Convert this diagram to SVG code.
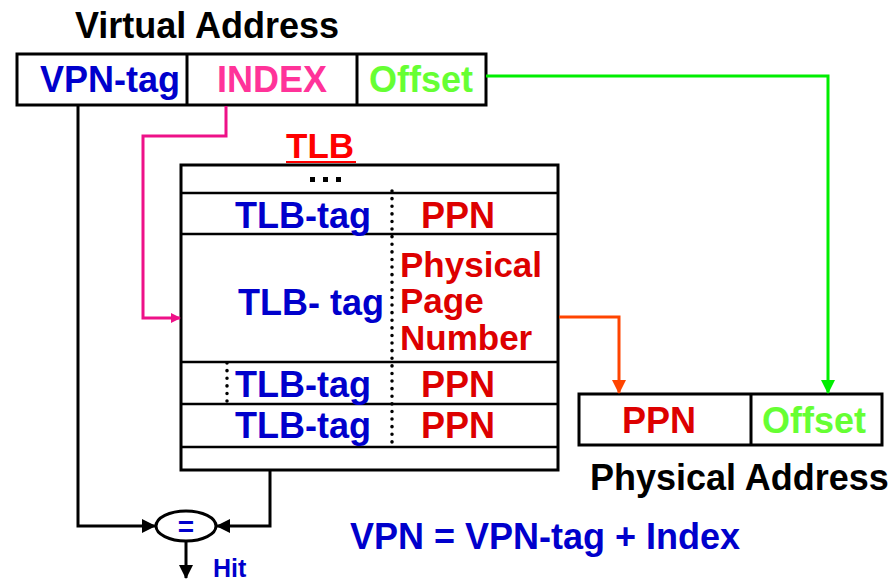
<svg xmlns="http://www.w3.org/2000/svg" width="893" height="583" viewBox="0 0 893 583">
<style>
text{font-family:"Liberation Sans",Arial,sans-serif;font-weight:bold}
.blk{fill:#000}
.blue{fill:#0000cc}
.red{fill:#dd0000}
.grn{fill:#66ff33}
.pink{fill:#ff3399}
.box{fill:#fff;stroke:#000;stroke-width:3}
.div{stroke:#000;stroke-width:3}
.row{stroke:#000;stroke-width:2.5}
.dot{stroke:#000;stroke-width:3.5;stroke-dasharray:0.1 7.5;stroke-linecap:round}
.ln{fill:none;stroke-width:3}
</style>
<defs>
<marker id="ap" markerWidth="10" markerHeight="10" refX="9" refY="5" orient="auto" markerUnits="userSpaceOnUse" viewBox="0 0 10 10"><path d="M0,0 L10,5 L0,10 Z" fill="#ee1188"/></marker>
<marker id="ao" markerWidth="14" markerHeight="14" refX="13" refY="7" orient="auto" markerUnits="userSpaceOnUse" viewBox="0 0 14 14"><path d="M0,0 L14,7 L0,14 Z" fill="#ff4400"/></marker>
<marker id="ag" markerWidth="14" markerHeight="14" refX="13" refY="7" orient="auto" markerUnits="userSpaceOnUse" viewBox="0 0 14 14"><path d="M0,0 L14,7 L0,14 Z" fill="#00ee00"/></marker>
<marker id="ak" markerWidth="14" markerHeight="14" refX="13" refY="7" orient="auto" markerUnits="userSpaceOnUse" viewBox="0 0 14 14"><path d="M0,0 L14,7 L0,14 Z" fill="#000"/></marker>
</defs>

<g id="virtual-address">
<text x="75" y="38" font-size="36" class="blk">Virtual Address</text>
<rect x="17" y="54" width="469" height="51" class="box"/>
<line x1="187" y1="54" x2="187" y2="105" class="div"/>
<line x1="357" y1="54" x2="357" y2="105" class="div"/>
<text x="40" y="92" font-size="36" class="blue">VPN-tag</text>
<text x="217" y="92" font-size="36" class="pink">INDEX</text>
<text x="369" y="92" font-size="36" class="grn">Offset</text>
</g>

<g id="tlb">
<text x="286" y="158" font-size="35" fill="#ff0000">TLB</text>
<line x1="286" y1="162" x2="356" y2="162" stroke="#ff0000" stroke-width="2"/>
<rect x="181" y="165" width="377" height="305" class="box"/>
<line x1="181" y1="193" x2="558" y2="193" class="row"/>
<line x1="181" y1="234" x2="558" y2="234" class="row"/>
<line x1="181" y1="362" x2="558" y2="362" class="row"/>
<line x1="181" y1="404" x2="558" y2="404" class="row"/>
<line x1="181" y1="447" x2="558" y2="447" class="row"/>
<line x1="392" y1="191" x2="392" y2="445" class="dot"/>
<line x1="227" y1="363" x2="227" y2="404" class="dot"/>
<rect x="310" y="177" width="5" height="5" fill="#000"/>
<rect x="323" y="177" width="5" height="5" fill="#000"/>
<rect x="336" y="177" width="5" height="5" fill="#000"/>
<text x="235" y="228" font-size="36" class="blue">TLB-tag</text>
<text x="421" y="228" font-size="36" class="red">PPN</text>
<text x="238" y="315" font-size="36" class="blue">TLB- tag</text>
<text x="400" y="277" font-size="35" class="red">Physical</text>
<text x="400" y="313" font-size="35" class="red">Page</text>
<text x="400" y="350" font-size="35" class="red">Number</text>
<text x="235" y="397" font-size="36" class="blue">TLB-tag</text>
<text x="421" y="397" font-size="36" class="red">PPN</text>
<text x="235" y="438" font-size="36" class="blue">TLB-tag</text>
<text x="421" y="438" font-size="36" class="red">PPN</text>
</g>

<g id="physical-address">
<rect x="579" y="394" width="303" height="51" class="box"/>
<line x1="751" y1="394" x2="751" y2="445" class="div"/>
<text x="622" y="433" font-size="36" class="red">PPN</text>
<text x="762" y="433" font-size="36" class="grn">Offset</text>
<text x="590" y="490" font-size="36" class="blk">Physical Address</text>
</g>

<g id="comparator">
<ellipse cx="186" cy="526" rx="30" ry="15" fill="#fff" stroke="#000" stroke-width="3"/>
<text x="186" y="536" font-size="28" class="blue" text-anchor="middle">=</text>
<text x="213" y="577" font-size="25" class="blue">Hit</text>
</g>

<g id="note">
<text x="350" y="549" font-size="36" class="blue">VPN = VPN-tag + Index</text>
</g>

<g id="connectors">
<polyline points="226,106 226,136 143,136 143,318 180,318" class="ln" stroke="#ee1188" marker-end="url(#ap)"/>
<polyline points="486,76 828,76 828,393" class="ln" stroke="#00ee00" marker-end="url(#ag)"/>
<polyline points="559,317 619,317 619,393" class="ln" stroke="#ff4400" marker-end="url(#ao)"/>
<polyline points="78,106 78,526 155,526" class="ln" stroke="#000" marker-end="url(#ak)"/>
<polyline points="270,471 270,526 217,526" class="ln" stroke="#000" marker-end="url(#ak)"/>
<line x1="186" y1="542" x2="186" y2="578" class="ln" stroke="#000" marker-end="url(#ak)"/>
</g>
</svg>
